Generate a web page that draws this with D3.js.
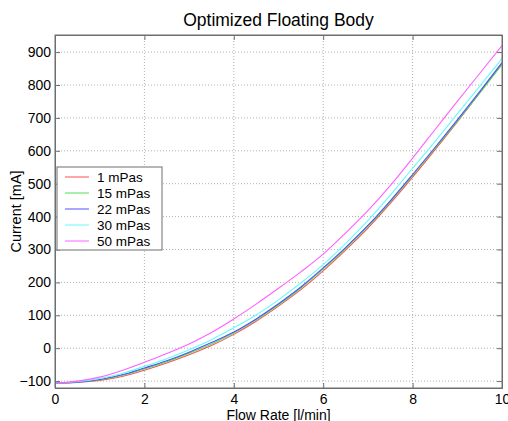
<!DOCTYPE html>
<html>
<head>
<meta charset="utf-8">
<script src="https://cdn.jsdelivr.net/npm/d3@7"></script>
<style>
  body { margin: 0; background: #fff; }
  text { font-family: "Liberation Sans", Arial, sans-serif; fill: #000; }
</style>
</head>
<body>
<svg id="chart"></svg>
<script>
// flow rate samples [l/min]
const flow = [0, 0.5, 1, 1.5, 2, 2.5, 3, 3.5, 4, 4.5, 5, 5.5, 6, 6.5, 7, 7.5, 8, 8.5, 9, 9.5, 10];

// current [mA] per viscosity
const mPas1  = [-106, -104, -98, -86, -67, -45, -20, 8, 42, 82, 128, 178, 235, 298, 365, 440, 520, 603, 688, 776, 866];
const mPas15 = [-106, -103, -96, -83, -63, -41, -15, 13, 46, 86, 132, 183, 241, 303, 370, 445, 525, 607, 690, 775, 862];
const mPas22 = [-106, -103, -95, -81, -60, -38, -12, 17, 49, 89, 135, 186, 244, 306, 373, 448, 528, 610, 694, 780, 868];
const mPas30 = [-106, -102, -92, -77, -55, -32, -5, 26, 62, 101, 147, 198, 254, 318, 388, 465, 547, 628, 712, 796, 880];
const mPas50 = [-106, -100, -88, -68, -43, -16, 13, 48, 89, 134, 182, 232, 286, 350, 418, 494, 578, 664, 750, 835, 920];

const seriesNames = ["1 mPas", "15 mPas", "22 mPas", "30 mPas", "50 mPas"];
const seriesData = [mPas1, mPas15, mPas22, mPas30, mPas50];
const seriesColors = ["#ff5050", "#50e050", "#5050ff", "#66fafa", "#ff60ff"];

const xTicks = [0, 2, 4, 6, 8, 10];
const yTicks = [-100, 0, 100, 200, 300, 400, 500, 600, 700, 800, 900];

const W = 508, H = 421;
const m = { left: 55, right: 6, top: 35, bottom: 33 };
const w = W - m.left - m.right, h = H - m.top - m.bottom;

const svg = d3.select("#chart").attr("width", W).attr("height", H);
const g = svg.append("g").attr("transform", `translate(${m.left},${m.top})`);

const x = d3.scaleLinear().domain([0, 10]).range([0, w]);
const y = d3.scaleLinear().domain([-121, 952]).range([h, 0]);

// grid
g.append("g").selectAll("line").data(xTicks.slice(1, -1)).join("line")
  .attr("x1", d => x(d)).attr("x2", d => x(d)).attr("y1", 0).attr("y2", h)
  .attr("stroke", "#b0b0b0").attr("stroke-dasharray", "1,2");
g.append("g").selectAll("line").data(yTicks).join("line")
  .attr("x1", 0).attr("x2", w).attr("y1", d => y(d)).attr("y2", d => y(d))
  .attr("stroke", "#b0b0b0").attr("stroke-dasharray", "1,2");

// curves
const line = d3.line().x((d, i) => x(flow[i])).y(d => y(d)).curve(d3.curveMonotoneX);
svg.append("clipPath").attr("id", "clip").append("rect").attr("width", w).attr("height", h);
g.append("g").attr("clip-path", "url(#clip)").selectAll("path").data(seriesData).join("path")
  .attr("d", line).attr("fill", "none")
  .attr("stroke", (d, i) => seriesColors[i]).attr("stroke-width", 1.1);

// axes (ticks inside, box on)
const axCol = "#6e6e6e";
g.append("g").attr("transform", `translate(0,${h})`)
  .call(d3.axisBottom(x).tickValues(xTicks).tickSize(-5).tickPadding(6).tickFormat(d3.format("d")));
g.append("g")
  .call(d3.axisLeft(y).tickValues(yTicks).tickSize(-5).tickPadding(4).tickFormat(d3.format("d")));
g.append("g")
  .call(d3.axisTop(x).tickValues(xTicks).tickSize(-5).tickFormat(""));
g.append("g").attr("transform", `translate(${w},0)`)
  .call(d3.axisRight(y).tickValues(yTicks).tickSize(-5).tickFormat(""));
g.selectAll(".domain").attr("stroke", axCol);
g.selectAll(".tick line").attr("stroke", axCol);
g.selectAll(".tick text").attr("font-size", 14).attr("fill", "#000")
  .style("font-family", "'Liberation Sans', Arial, sans-serif");
g.append("rect").attr("width", w).attr("height", h).attr("fill", "none").attr("stroke", axCol);

// labels
svg.append("text").attr("x", m.left + w / 2).attr("y", 26).attr("text-anchor", "middle")
  .attr("font-size", 17.5).text("Optimized Floating Body");
svg.append("text").attr("x", m.left + w / 2).attr("y", 420).attr("text-anchor", "middle")
  .attr("font-size", 14).text("Flow Rate [l/min]");
svg.append("text").attr("transform", `translate(21,${m.top + h / 2}) rotate(-90)`)
  .attr("text-anchor", "middle").attr("font-size", 14.5).text("Current [mA]");

// legend
const lg = svg.append("g").attr("transform", "translate(57,167)");
lg.append("rect").attr("width", 105).attr("height", 83).attr("fill", "#fff").attr("stroke", axCol);
const items = lg.selectAll("g").data(seriesNames).join("g")
  .attr("transform", (d, i) => `translate(0,${10 + i * 16})`);
items.append("line").attr("x1", 8).attr("x2", 32).attr("stroke", (d, i) => seriesColors[i]);
items.append("text").attr("x", 40).attr("dy", "0.35em").attr("font-size", 13.5).text(d => d);
</script>
</body>
</html>
